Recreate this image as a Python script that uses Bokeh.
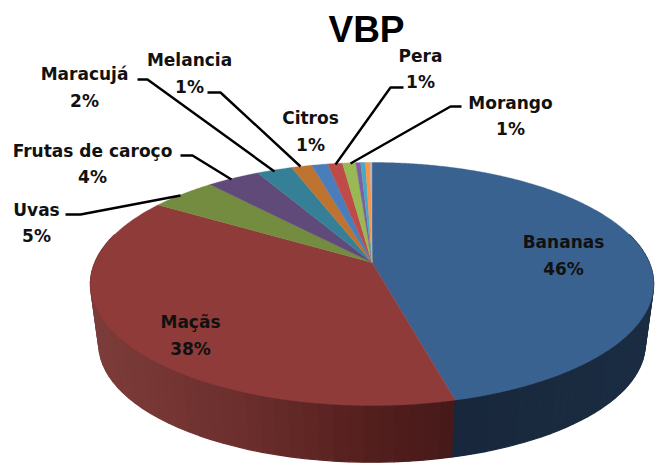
import numpy as np
from bokeh.embed import file_html
from bokeh.resources import INLINE
from bokeh.plotting import figure
from bokeh.models import Range1d
from bokeh.core.properties import value

names = ["Bananas", "Maçãs", "Uvas", "Frutas de caroço", "Maracujá", "Melancia", "Citros", "Pera", "Morango", "Outras 1", "Outras 2", "Outras 3", "Outras 4"]
values = [46.0, 38.0, 4.5, 3.6, 2.4, 1.4, 1.1, 1.0, 0.9, 0.33, 0.33, 0.34, 0.1]
colors = ["#3A6291", "#8E3B39", "#748C40", "#5F4A7A", "#368097", "#BE7430", "#4A7EBB", "#BE4B48", "#98B954", "#7D60A0", "#46AAC5", "#F79646", "#A6B9D6"]

label_names = ["Bananas", "Maçãs", "Uvas", "Frutas de caroço", "Maracujá", "Melancia", "Citros", "Pera", "Morango"]
label_pcts = ["46%", "38%", "5%", "4%", "2%", "1%", "1%", "1%", "1%"]
label_x = [563, 190, 36, 92, 84, 189, 310, 420, 510]
label_y1 = [241, 321, 209, 150, 73, 59, 117, 55, 102]
label_y2 = [268, 348, 235, 176, 100, 86, 144, 81, 128]

leader_xs = [[65, 80, 180], [180, 192, 231], [137, 147, 274], [207, 220, 300], [403, 390, 335], [461, 450, 350]]
leader_ys = [[214, 214, 195], [155, 155, 179], [79, 79, 171], [92, 92, 166], [87, 87, 164], [106, 106, 163]]

CX, APEX_Y, A, B, T = 371.5, 262.0, 277.2, 117.7, 0.177
DEPTH, SCALE = 61.0, 0.97


def top(th):
    u, v = np.sin(th), np.cos(th)
    return CX + A * u / (1 + T * v), APEX_Y - B * v / (1 + T * v)


def bottom(th):
    u, v = np.sin(th), np.cos(th)
    return CX + SCALE * A * u / (1 + T * v), APEX_Y + DEPTH - SCALE * B * v / (1 + T * v)


def lerp_hex(stops, f):
    xs = [s[0] for s in stops]
    rgb = [np.interp(f, xs, [s[i] for s in stops]) for i in (1, 2, 3)]
    return "#%02x%02x%02x" % tuple(int(round(c)) for c in rgb)


cum = np.concatenate([[0], np.cumsum(values)]) / sum(values) * 2 * np.pi

p = figure(width=659, height=463, output_backend="svg", toolbar_location=None,
           x_range=Range1d(0, 659), y_range=Range1d(463, 0), min_border=0)
p.axis.visible = False
p.grid.visible = False
p.outline_line_color = None
p.background_fill_color = "white"
p.border_fill_color = "white"

# side walls
red_stops = [(100, 0x7C, 0x3C, 0x3A), (250, 0x6B, 0x2E, 0x2C), (360, 0x55, 0x20, 0x1E), (456, 0x44, 0x19, 0x18)]
blue_stops = [(456, 0x18, 0x27, 0x3B), (650, 0x1B, 0x2D, 0x43)]
wx, wy, wc = [], [], []
for i, stops in [(1, red_stops), (0, blue_stops)]:
    n = 45
    ths = np.linspace(max(cum[i], np.pi / 2 - 0.25), min(cum[i + 1], 3 * np.pi / 2 + 0.25), n + 1)
    for a, b in zip(ths[:-1], ths[1:]):
        x1, y1 = top(a); x2, y2 = top(b)
        x3, y3 = bottom(b); x4, y4 = bottom(a)
        wx.append([x1, x2, x3, x4]); wy.append([y1, y2, y3, y4])
        wc.append(lerp_hex(stops, (x3 + x4) / 2))
p.patches(wx, wy, fill_color=wc, line_color=wc, line_width=1.2)

# top face
fx, fy = [], []
for a, b in zip(cum[:-1], cum[1:]):
    th = np.linspace(a, b, max(3, int((b - a) * 120)))
    x, y = top(th)
    fx.append([CX, *x]); fy.append([APEX_Y, *y])
p.patches(fx, fy, fill_color=colors, line_color=colors, line_width=0.4)

p.multi_line(leader_xs, leader_ys, line_color="#000000", line_width=2.4)

font = value("DejaVu Sans")
common = dict(text_font=font, text_font_style="bold", text_font_size="17px", text_color="#111111",
              text_align="center", text_baseline="middle")
p.text(label_x, label_y1, text=label_names, **common)
p.text(label_x, label_y2, text=label_pcts, **common)
p.text([366], [29], text=["VBP"], text_font=value("Liberation Sans"), text_font_style="bold", text_font_size="37px",
       text_color="#000000", text_align="center", text_baseline="middle")

open("out.html", "w").write(file_html(p, INLINE))
